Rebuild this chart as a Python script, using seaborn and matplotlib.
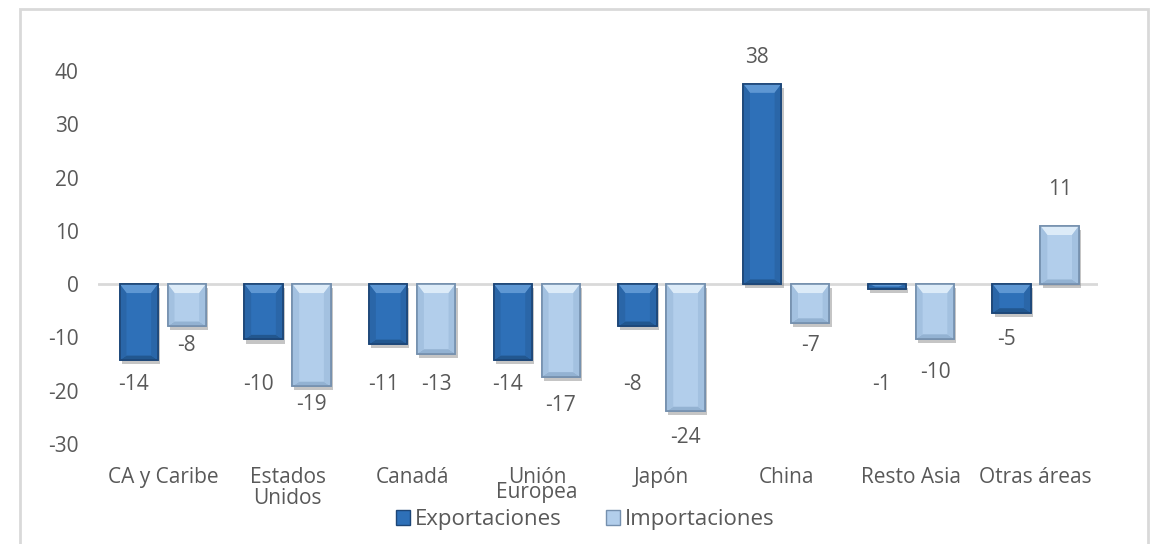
import matplotlib
matplotlib.use("Agg")
import matplotlib.pyplot as plt
import matplotlib.patheffects as pe
from matplotlib.patches import Patch, Rectangle, Polygon
import pandas as pd
import seaborn as sns

# Data
regiones = ["CA y Caribe", "Estados\nUnidos", "Canadá", "Unión\nEuropea",
            "Japón", "China", "Resto Asia", "Otras áreas"]
exportaciones = [-14.3, -10.4, -11.3, -14.3, -7.9, 37.6, -0.9, -5.4]
importaciones = [-7.9, -19.2, -13.1, -17.4, -23.9, -7.3, -10.3, 10.9]
series = ["Exportaciones", "Importaciones"]

# where Excel left the data labels (in data units)
label_y_exp = [-18.8, -18.8, -18.8, -18.8, -18.8, 42.6, -18.8, -10.5]
label_y_imp = [-11.5, -22.7, -18.8, -22.9, -28.9, -11.5, -16.7, 17.7]

colores = ["#2E70B8", "#B2CEEB"]
bordes = ["#1D4677", "#7590AE"]
luz = ["#5E97D3", "#DCEBF8"]
lado = ["#2A66A8", "#A3C1E0"]
fondo = ["#22578F", "#93B2D2"]
gris = "#595959"

df = pd.DataFrame({
    "region": regiones * 2,
    "serie": [series[0]] * len(regiones) + [series[1]] * len(regiones),
    "valor": exportaciones + importaciones,
})

sns.set_style("white")
plt.rcParams["font.family"] = ["Open Sans", "DejaVu Sans"]
plt.rcParams["axes.unicode_minus"] = False

fig = plt.figure(figsize=(11.51, 5.44), dpi=100)
ax = fig.add_axes([98 / 1151, 0.1647, 1000 / 1151, 0.7635])

sns.barplot(data=df, x="region", y="valor", hue="serie", order=regiones,
            hue_order=series, palette=colores, width=0.77, gap=0.2,
            saturation=1, legend=False, ax=ax)

sombra = [pe.SimplePatchShadow(offset=(1.5, -3), shadow_rgbFace="#7F7F7F", alpha=0.45),
          pe.Normal()]
for i, (cont, borde) in enumerate(zip(ax.containers, bordes)):
    for bar in cont:
        bar.set_edgecolor(borde)
        bar.set_linewidth(1.2)
        bar.set_path_effects(sombra)
        bar.set_zorder(3)
        # bevel facets: light at the top of the screen, darker at sides and bottom
        x0, w = bar.get_x(), bar.get_width()
        y_lo, y_hi = sorted([bar.get_y(), bar.get_y() + bar.get_height()])
        bh = min(1.7, (y_hi - y_lo) / 2)
        bw = min(0.055, w / 2)
        x1 = x0 + w
        facets = [
            ([(x0, y_hi), (x1, y_hi), (x1 - bw, y_hi - bh), (x0 + bw, y_hi - bh)], luz[i]),
            ([(x0, y_lo), (x1, y_lo), (x1 - bw, y_lo + bh * 0.5), (x0 + bw, y_lo + bh * 0.5)], fondo[i]),
            ([(x0, y_lo), (x0, y_hi), (x0 + bw, y_hi - bh), (x0 + bw, y_lo + bh * 0.5)], lado[i]),
            ([(x1, y_lo), (x1, y_hi), (x1 - bw, y_hi - bh), (x1 - bw, y_lo + bh * 0.5)], lado[i]),
        ]
        for pts, col in facets:
            ax.add_patch(Polygon(pts, closed=True, facecolor=col, edgecolor="none",
                                 zorder=3.5))
        ax.add_patch(Rectangle((x0, y_lo), w, y_hi - y_lo, fill=False,
                               edgecolor=borde, lw=1.2, zorder=3.6))

# data labels
for cont, ys, dx in zip(ax.containers, [label_y_exp, label_y_imp], [-0.04, 0.0]):
    for bar, y in zip(cont, ys):
        xc = bar.get_x() + bar.get_width() / 2 + dx
        ax.text(xc, y, f"{bar.get_height():.0f}", ha="center", va="center",
                fontsize=15, color=gris)

ax.axhline(0, color="#D9D9D9", lw=2, zorder=2)
ax.set_ylim(-32, 46)
ax.set_xlim(-0.52, 7.5)
ax.set_yticks(range(-30, 41, 10))
ax.set_xlabel("")
ax.set_ylabel("")
sns.despine(ax=ax, left=True, bottom=True)
ax.tick_params(axis="both", length=0, labelsize=15, labelcolor=gris)
ax.tick_params(axis="y", pad=14)
ax.tick_params(axis="x", pad=9)
for lbl in ax.get_xticklabels():
    lbl.set_linespacing(1.0 if lbl.get_text().startswith("Estados") else 0.62)

handles = [Patch(facecolor=c, edgecolor=b, label=s)
           for c, b, s in zip(colores, bordes, series)]
fig.legend(handles=handles, loc="center", bbox_to_anchor=(585 / 1151, 24 / 544),
           ncol=2, frameon=False, fontsize=16, labelcolor=gris,
           handlelength=0.65, handleheight=0.65, handletextpad=0.2,
           columnspacing=2.0)

# outer chart frame
fig.patches.append(Rectangle((20 / 1151, -0.02), 1128 / 1151, 1.02 - 9 / 544,
                             transform=fig.transFigure, fill=False,
                             edgecolor="#D9D9D9", lw=2))

fig.savefig("out.png", dpi=100)
